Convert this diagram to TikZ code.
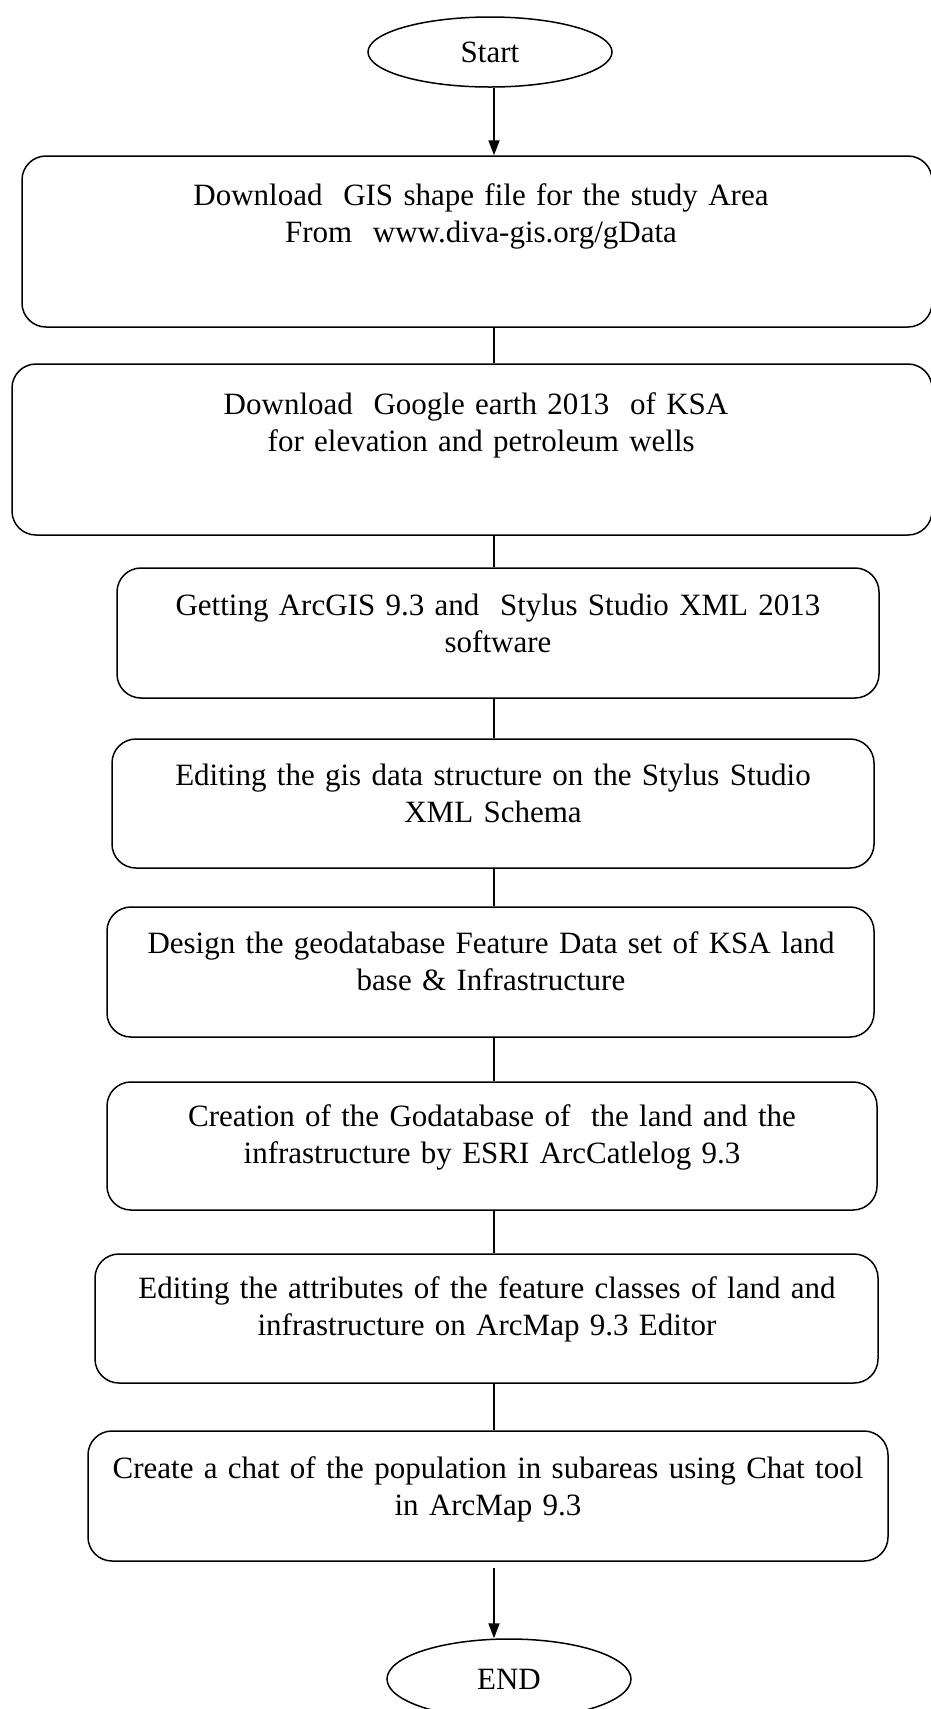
\documentclass[tikz,border=0pt]{standalone}
\usepackage{fontspec}
\setmainfont{Liberation Serif}
\usetikzlibrary{shapes.geometric,arrows.meta}
\tikzset{
  stepbox/.style={draw=black, line width=1.5pt, rounded corners=24pt, inner sep=0pt},
  term/.style={draw=black, line width=1.5pt, ellipse, inner sep=0pt},
  txt/.style={inner sep=0pt, text width=840pt, align=center, anchor=base,
    font=\fontsize{31}{37}\selectfont},
  link/.style={draw=black, line width=1.8pt},
  arr/.style={link, -{Triangle[length=15pt,width=11pt]}},
}
\begin{document}
\begin{tikzpicture}[x=1pt,y=-1pt]
\useasboundingbox (0,0) rectangle (930,1709);
\coordinate (spine) at (494,0);
% terminals
\node[term, minimum width=244pt, minimum height=70pt] (start) at (490,52) {};
\node[txt, anchor=center, text width=200pt] (startt) at (490,52) {Start};
\node[term, minimum width=244pt, minimum height=80pt] (end) at (509,1679) {};
\node[txt, anchor=center, text width=200pt] (endt) at (509,1679) {END};
% boxes
\node[stepbox, minimum width=910pt, minimum height=171pt] (b1) at (477,241.5) {};
\node[stepbox, minimum width=920pt, minimum height=171pt] (b2) at (472,449.5) {};
\node[stepbox, minimum width=762pt, minimum height=130pt] (b3) at (498,633) {};
\node[stepbox, minimum width=762pt, minimum height=129pt] (b4) at (493,803.5) {};
\node[stepbox, minimum width=767pt, minimum height=130pt] (b5) at (490.5,972) {};
\node[stepbox, minimum width=770pt, minimum height=128pt] (b6) at (492,1146) {};
\node[stepbox, minimum width=783pt, minimum height=129pt] (b7) at (486.5,1318.5) {};
\node[stepbox, minimum width=800pt, minimum height=130pt] (b8) at (488,1496) {};
% texts
\node[txt] (t1) at (481,205) {Download~ GIS shape file for the study Area\\From~ www.diva-gis.org/gData};
\node[txt] (t2) at (476,414) {Download~ Google earth 2013~ of KSA\\~for elevation and petroleum wells};
\node[txt] (t3) at (498,615) {Getting ArcGIS 9.3 and~ Stylus Studio XML 2013\\software};
\node[txt] (t4) at (493,785) {Editing the gis data structure on the Stylus Studio\\XML Schema};
\node[txt] (t5) at (491,953) {Design the geodatabase Feature Data set of KSA land\\base \& Infrastructure};
\node[txt] (t6) at (492,1126) {Creation of the Godatabase of~ the land and the\\infrastructure by ESRI ArcCatlelog 9.3};
\node[txt] (t7) at (487,1298) {Editing the attributes of the feature classes of land and\\infrastructure on ArcMap 9.3 Editor};
\node[txt] (t8) at (488,1478) {Create a chat of the population in subareas using Chat tool\\in ArcMap 9.3};
% connectors
\draw[arr] (spine |- start.south) -- (spine |- b1.north);
\draw[link] (spine |- b1.south) -- (spine |- b2.north);
\draw[link] (spine |- b2.south) -- (spine |- b3.north);
\draw[link] (spine |- b3.south) -- (spine |- b4.north);
\draw[link] (spine |- b4.south) -- (spine |- b5.north);
\draw[link] (spine |- b5.south) -- (spine |- b6.north);
\draw[link] (spine |- b6.south) -- (spine |- b7.north);
\draw[link] (spine |- b7.south) -- (spine |- b8.north);
\draw[arr, shorten <=6pt] (spine |- b8.south) -- (spine |- end.north);
\end{tikzpicture}
\end{document}
